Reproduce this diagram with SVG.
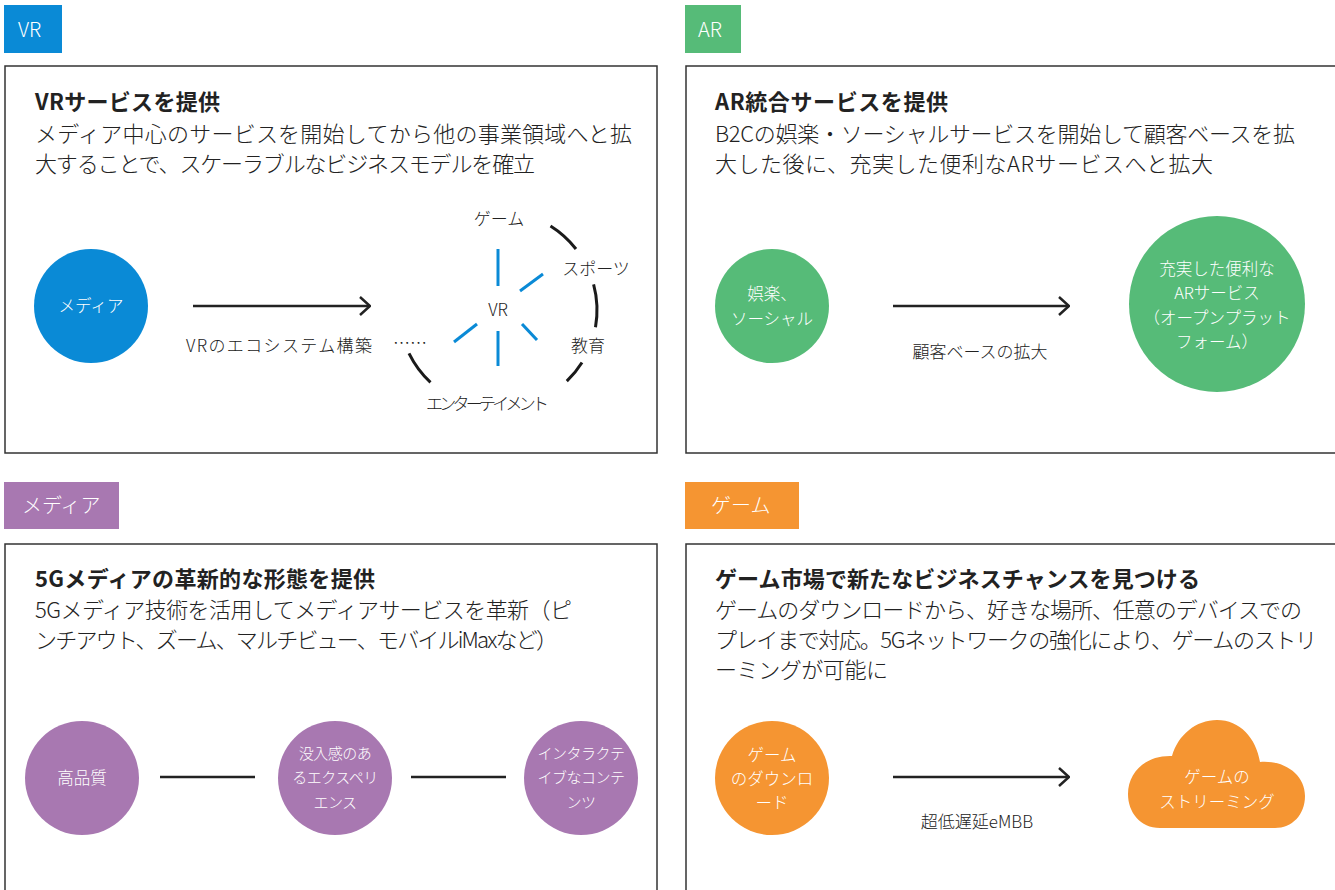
<svg xmlns="http://www.w3.org/2000/svg" width="1335" height="890" viewBox="0 0 1335 890">
<style>
text{font-family:"Noto Sans CJK JP","Noto Sans",sans-serif;fill:#222}
.tag{font-size:20px;fill:#fff;font-weight:300}
.title{font-size:22px;font-weight:bold}
.body{font-size:22px;font-weight:300}
.lbl{font-size:17px;font-weight:300}
.w{fill:#fff;font-size:16.5px;text-anchor:middle;font-weight:300}
.ws{fill:#fff;font-size:15px;text-anchor:middle;letter-spacing:-0.5px;font-weight:300}
.c{text-anchor:middle}
.panel{fill:none;stroke:#333;stroke-width:1.5}
.ln{stroke:#222;stroke-width:2.5;fill:none}
.bl{stroke:#0a8ad6;stroke-width:3;fill:none}
.arc{stroke:#1a1a1a;stroke-width:3;fill:none}
</style>
<defs>
<marker id="chev" viewBox="0 0 12 20" refX="11" refY="10" markerWidth="12" markerHeight="20" markerUnits="userSpaceOnUse" orient="auto">
<path d="M1 1 L11 10 L1 19" fill="none" stroke="#222" stroke-width="2.5"/>
</marker>
</defs>
<rect width="1335" height="890" fill="#fff"/>

<g id="vr-section">
<rect x="4" y="5" width="58" height="48" fill="#0a8ad6"/>
<text class="tag" x="18" y="37">VR</text>
<rect class="panel" x="5" y="66" width="652" height="387"/>
<text class="title" x="35" y="110" textLength="185" lengthAdjust="spacing">VRサービスを提供</text>
<text class="body" x="35" y="142" textLength="597" lengthAdjust="spacing">メディア中心のサービスを開始してから他の事業領域へと拡</text>
<text class="body" x="35" y="172" textLength="500" lengthAdjust="spacing">大することで、スケーラブルなビジネスモデルを確立</text>
</g>
<g id="vr-media">
<circle cx="91" cy="306" r="57" fill="#0a8ad6"/>
<text class="w" x="91" y="312">メディア</text>
</g>
<g id="vr-hub">
<text class="lbl c" x="498" y="316">VR</text>
<text class="lbl c" x="499" y="225">ゲーム</text>
<text class="lbl c" x="596" y="275">スポーツ</text>
<text class="lbl c" x="588" y="352">教育</text>
<text class="lbl" x="426" y="410" textLength="123" lengthAdjust="spacing">エンターテイメント</text>
<text class="lbl c" x="410" y="350">……</text>
</g>
<g id="vr-label">
<text class="lbl c" x="279" y="352" textLength="186" lengthAdjust="spacing">VRのエコシステム構築</text>
</g>

<g id="ar-section">
<rect x="685" y="5" width="56" height="48" fill="#56bb78"/>
<text class="tag" x="698" y="37">AR</text>
<rect class="panel" x="686" y="66" width="660" height="387"/>
<text class="title" x="715" y="110" textLength="233" lengthAdjust="spacing">AR統合サービスを提供</text>
<text class="body" x="715" y="142" textLength="580" lengthAdjust="spacing">B2Cの娯楽・ソーシャルサービスを開始して顧客ベースを拡</text>
<text class="body" x="715" y="172" textLength="498" lengthAdjust="spacing">大した後に、充実した便利なARサービスへと拡大</text>
</g>
<g id="ar-social">
<circle cx="772" cy="306" r="57" fill="#56bb78"/>
<text class="w" x="772" y="300">娯楽、</text>
<text class="w" x="772" y="325">ソーシャル</text>
</g>
<g id="ar-service">
<circle cx="1217" cy="304" r="88" fill="#56bb78"/>
<text class="w" x="1217" y="275">充実した便利な</text>
<text class="w" x="1217" y="299">ARサービス</text>
<text class="w" x="1217" y="324">（オープンプラット</text>
<text class="w" x="1217" y="348">フォーム）</text>
</g>
<g id="ar-label">
<text class="lbl c" x="980" y="358">顧客ベースの拡大</text>
</g>

<g id="media-section">
<rect x="4" y="482" width="115" height="47" fill="#a878b1"/>
<text class="tag" x="22" y="513">メディア</text>
<rect class="panel" x="5" y="544" width="652" height="360"/>
<text class="title" x="35" y="587" textLength="340" lengthAdjust="spacing">5Gメディアの革新的な形態を提供</text>
<text class="body" x="35" y="618" textLength="537" lengthAdjust="spacing">5Gメディア技術を活用してメディアサービスを革新（ピ</text>
<text class="body" x="35" y="648" textLength="523" lengthAdjust="spacing">ンチアウト、ズーム、マルチビュー、モバイルiMaxなど）</text>
</g>
<g id="media-quality">
<circle cx="82" cy="778" r="57" fill="#a878b1"/>
<text class="w" x="82" y="784">高品質</text>
</g>
<g id="media-immersive">
<circle cx="335" cy="778" r="57" fill="#a878b1"/>
<text class="ws" x="335" y="759">没入感のあ</text>
<text class="ws" x="335" y="783">るエクスペリ</text>
<text class="ws" x="335" y="808">エンス</text>
</g>
<g id="media-interactive">
<circle cx="581" cy="778" r="57" fill="#a878b1"/>
<text class="ws" x="581" y="759">インタラクテ</text>
<text class="ws" x="581" y="783">イブなコンテ</text>
<text class="ws" x="581" y="808">ンツ</text>
</g>

<g id="game-section">
<rect x="685" y="482" width="114" height="47" fill="#f59532"/>
<text class="tag" x="711" y="513">ゲーム</text>
<rect class="panel" x="686" y="544" width="660" height="360"/>
<text class="title" x="715" y="587" textLength="485" lengthAdjust="spacing">ゲーム市場で新たなビジネスチャンスを見つける</text>
<text class="body" x="715" y="618" textLength="587" lengthAdjust="spacing">ゲームのダウンロードから、好きな場所、任意のデバイスでの</text>
<text class="body" x="715" y="648" textLength="602" lengthAdjust="spacing">プレイまで対応。5Gネットワークの強化により、ゲームのストリ</text>
<text class="body" x="715" y="678" textLength="173" lengthAdjust="spacing">ーミングが可能に</text>
</g>
<g id="game-download">
<circle cx="772" cy="778" r="57" fill="#f59532"/>
<text class="w" x="772" y="761">ゲーム</text>
<text class="w" x="772" y="785">のダウンロ</text>
<text class="w" x="772" y="809">ード</text>
</g>
<g id="game-streaming">
<path d="M1160 828 C1140 828 1128 812 1128 794 C1128 772 1146 755 1172 756 C1178 735 1196 720 1217 720 C1240 720 1256 738 1260 762 C1285 760 1305 775 1305 796 C1305 815 1292 828 1275 828 Z" fill="#f59532"/>
<text class="w" x="1217" y="783">ゲームの</text>
<text class="w" x="1217" y="808">ストリーミング</text>
</g>
<g id="game-label">
<text class="lbl c" x="977" y="828">超低遅延eMBB</text>
</g>

<g id="connectors">
<line class="ln" x1="193" y1="306" x2="370" y2="306" marker-end="url(#chev)"/>
<line class="ln" x1="893" y1="306" x2="1069" y2="306" marker-end="url(#chev)"/>
<line class="ln" x1="893" y1="777" x2="1069" y2="777" marker-end="url(#chev)"/>
<line class="ln" x1="160" y1="777" x2="255" y2="777"/>
<line class="ln" x1="411" y1="777" x2="506" y2="777"/>
<line class="bl" x1="498" y1="249" x2="498" y2="286"/>
<line class="bl" x1="498" y1="331" x2="498" y2="366"/>
<line class="bl" x1="520" y1="291" x2="543" y2="274"/>
<line class="bl" x1="454" y1="342" x2="477" y2="324"/>
<line class="bl" x1="522" y1="324" x2="537" y2="340"/>
<path class="arc" d="M550.5 226 A99 99 0 0 1 576 249"/>
<path class="arc" d="M593.6 284.4 A99 99 0 0 1 595.5 327.2"/>
<path class="arc" d="M582 362.5 A99 99 0 0 1 566.8 381.2"/>
<path class="arc" d="M430.5 382.4 A99 99 0 0 1 409 353.4"/>
</g>
</svg>
